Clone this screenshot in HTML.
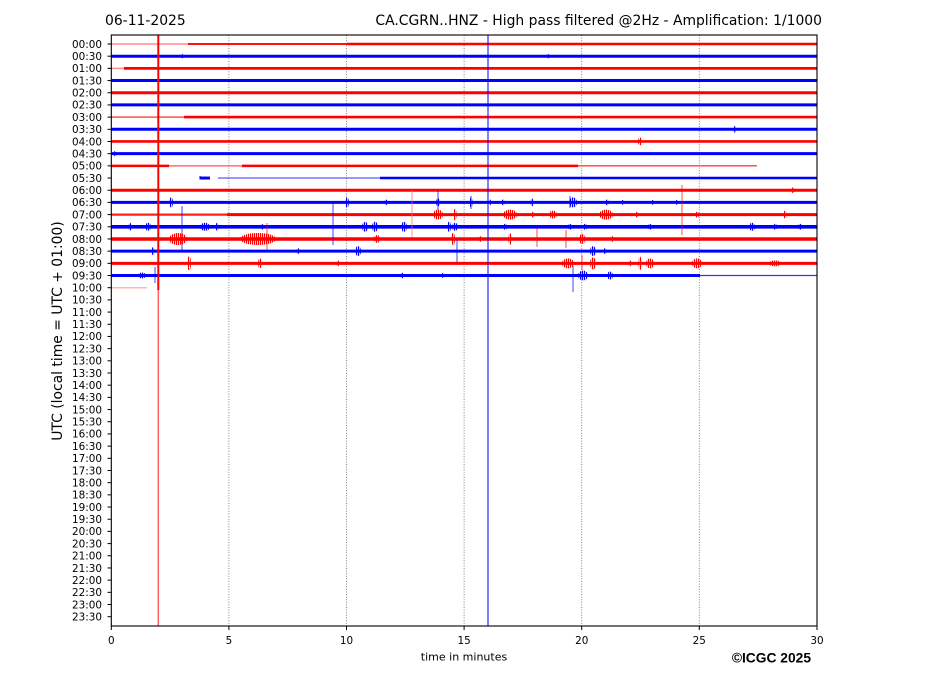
<!DOCTYPE html>
<html><head><meta charset="utf-8"><style>
html,body{margin:0;padding:0;background:#fff;}
svg{display:block;}
</style></head><body>
<svg width="927" height="696" viewBox="0 0 927 696" xmlns="http://www.w3.org/2000/svg" font-family="DejaVu Sans, Liberation Sans, sans-serif">
<defs>
<pattern id="pr" width="2" height="4" patternUnits="userSpaceOnUse"><rect width="1.2" height="4" fill="#ff0000"/></pattern>
<pattern id="pb" width="2" height="4" patternUnits="userSpaceOnUse"><rect width="1.2" height="4" fill="#0000ff"/></pattern>
</defs>
<rect width="927" height="696" fill="#fff"/>
<!-- titles -->
<text x="105" y="25" font-size="13.9" fill="#000">06-11-2025</text>
<text x="822" y="25" font-size="13.9" fill="#000" text-anchor="end">CA.CGRN..HNZ - High pass filtered @2Hz - Amplification: 1/1000</text>

<!-- grid -->
<g stroke="#666" stroke-width="0.8" stroke-dasharray="1,1.6">
<line x1="228.9" y1="35" x2="228.9" y2="626"/>
<line x1="346.5" y1="35" x2="346.5" y2="626"/>
<line x1="464.1" y1="35" x2="464.1" y2="626"/>
<line x1="581.7" y1="35" x2="581.7" y2="626"/>
<line x1="699.3" y1="35" x2="699.3" y2="626"/>
</g>

<!-- traces base lines -->
<g stroke-linecap="butt" fill="none">
<line x1="111" y1="44" x2="188" y2="44" stroke="#ff8c8c" stroke-width="1.5"/>
<line x1="188" y1="44" x2="347" y2="44" stroke="#ff1010" stroke-width="2"/>
<line x1="347" y1="44" x2="817" y2="44" stroke="#ff0000" stroke-width="2.5"/>
<line x1="111" y1="56.19" x2="817" y2="56.19" stroke="#0000ff" stroke-width="3"/>
<line x1="111" y1="68.37" x2="124" y2="68.37" stroke="#ff8c8c" stroke-width="1.5"/>
<line x1="124" y1="68.37" x2="817" y2="68.37" stroke="#ff0000" stroke-width="2.8"/>
<line x1="111" y1="80.56" x2="817" y2="80.56" stroke="#0000ff" stroke-width="3"/>
<line x1="111" y1="92.74" x2="817" y2="92.74" stroke="#ff0000" stroke-width="3"/>
<line x1="111" y1="104.93" x2="817" y2="104.93" stroke="#0000ff" stroke-width="3"/>
<line x1="111" y1="117.11" x2="184" y2="117.11" stroke="#ff5050" stroke-width="1.5"/>
<line x1="184" y1="117.11" x2="817" y2="117.11" stroke="#ff0000" stroke-width="2.6"/>
<line x1="111" y1="129.3" x2="817" y2="129.3" stroke="#0000ff" stroke-width="3"/>
<line x1="111" y1="141.48" x2="817" y2="141.48" stroke="#ff0000" stroke-width="2.6"/>
<line x1="111" y1="153.67" x2="817" y2="153.67" stroke="#0000ff" stroke-width="3"/>
<line x1="111" y1="165.85" x2="169" y2="165.85" stroke="#ff0000" stroke-width="2.5"/>
<line x1="169" y1="165.85" x2="242" y2="165.85" stroke="#ff5050" stroke-width="1.2"/>
<line x1="242" y1="165.85" x2="578" y2="165.85" stroke="#ff0000" stroke-width="2.5"/>
<line x1="578" y1="165.85" x2="757" y2="165.85" stroke="#ff4040" stroke-width="1.4"/>
<line x1="200" y1="178.04" x2="210" y2="178.04" stroke="#0000ff" stroke-width="3"/>
<line x1="200" y1="176" x2="200" y2="179.5" stroke="#0000ff" stroke-width="1"/>
<line x1="218" y1="178.04" x2="380" y2="178.04" stroke="#3030ff" stroke-width="1"/>
<line x1="380" y1="178.04" x2="817" y2="178.04" stroke="#0000ff" stroke-width="2.5"/>
<line x1="111" y1="190.22" x2="817" y2="190.22" stroke="#ff0000" stroke-width="3"/>
<line x1="111" y1="202.41" x2="817" y2="202.41" stroke="#0000ff" stroke-width="3"/>
<line x1="111" y1="214.59" x2="227" y2="214.59" stroke="#ff2020" stroke-width="2.2"/>
<line x1="227" y1="214.59" x2="817" y2="214.59" stroke="#ff0000" stroke-width="3"/>
<line x1="111" y1="226.78" x2="817" y2="226.78" stroke="#0000ff" stroke-width="3.6"/>
<line x1="111" y1="238.96" x2="817" y2="238.96" stroke="#ff0000" stroke-width="3.5"/>
<line x1="111" y1="251.15" x2="817" y2="251.15" stroke="#0000ff" stroke-width="3"/>
<line x1="111" y1="263.33" x2="817" y2="263.33" stroke="#ff0000" stroke-width="3"/>
<line x1="111" y1="275.52" x2="700" y2="275.52" stroke="#0000ff" stroke-width="3"/>
<line x1="700" y1="275.52" x2="817" y2="275.52" stroke="#3030ff" stroke-width="1.2"/>
<line x1="111" y1="287.7" x2="147" y2="287.7" stroke="#ffb4b4" stroke-width="1.5"/>
</g>

<!-- bursts -->
<g fill="url(#pb)">
<ellipse cx="182" cy="56.19" rx="1.5" ry="2.2"/>
<ellipse cx="548" cy="56.19" rx="1.5" ry="2.2"/>
<ellipse cx="735" cy="129.3" rx="1.2" ry="3.5"/>
<ellipse cx="115" cy="153.67" rx="1.5" ry="2.5"/>
<ellipse cx="171" cy="202.41" rx="2" ry="5"/>
<ellipse cx="347" cy="202.41" rx="2" ry="5"/>
<ellipse cx="386" cy="202.41" rx="1.5" ry="3"/>
<ellipse cx="438" cy="202.41" rx="2" ry="4"/>
<ellipse cx="471" cy="202.41" rx="1.5" ry="5"/>
<ellipse cx="490" cy="202.41" rx="1.2" ry="3"/>
<ellipse cx="503" cy="202.41" rx="1.5" ry="3"/>
<ellipse cx="532" cy="202.41" rx="1.5" ry="4"/>
<ellipse cx="573" cy="202.41" rx="4" ry="5"/>
<ellipse cx="607" cy="202.41" rx="1.5" ry="3"/>
<ellipse cx="623" cy="202.41" rx="1.2" ry="2.5"/>
<ellipse cx="653" cy="202.41" rx="1.2" ry="2.5"/>
<ellipse cx="677" cy="202.41" rx="1.2" ry="2.5"/>
<ellipse cx="130" cy="226.78" rx="1.5" ry="4"/>
<ellipse cx="148" cy="226.78" rx="3" ry="4"/>
<ellipse cx="205" cy="226.78" rx="5" ry="4"/>
<ellipse cx="217" cy="226.78" rx="1.5" ry="4"/>
<ellipse cx="262" cy="226.78" rx="1.5" ry="3"/>
<ellipse cx="365" cy="226.78" rx="3" ry="5"/>
<ellipse cx="375" cy="226.78" rx="3" ry="5"/>
<ellipse cx="404" cy="226.78" rx="3" ry="5"/>
<ellipse cx="449" cy="226.78" rx="2" ry="5"/>
<ellipse cx="455" cy="226.78" rx="3" ry="4"/>
<ellipse cx="505" cy="226.78" rx="2" ry="3"/>
<ellipse cx="570" cy="226.78" rx="2" ry="3"/>
<ellipse cx="585" cy="226.78" rx="2" ry="3"/>
<ellipse cx="650" cy="226.78" rx="2" ry="3"/>
<ellipse cx="752" cy="226.78" rx="3" ry="4"/>
<ellipse cx="775" cy="226.78" rx="2" ry="3"/>
<ellipse cx="800" cy="226.78" rx="2" ry="3"/>
<ellipse cx="153" cy="251.15" rx="1.5" ry="4"/>
<ellipse cx="298" cy="251.15" rx="1.5" ry="3"/>
<ellipse cx="358" cy="251.15" rx="3" ry="5"/>
<ellipse cx="593" cy="251.15" rx="3" ry="5"/>
<ellipse cx="605" cy="251.15" rx="1.5" ry="3"/>
<ellipse cx="142" cy="275.52" rx="4" ry="3"/>
<ellipse cx="402" cy="275.52" rx="1.5" ry="3"/>
<ellipse cx="443" cy="275.52" rx="1.5" ry="2.5"/>
<ellipse cx="583" cy="275.52" rx="5" ry="5"/>
<ellipse cx="610" cy="275.52" rx="3" ry="4"/>
</g>
<g stroke="#0000ff" stroke-width="1" stroke-opacity="0.75">
<line x1="438" y1="191" x2="438" y2="210"/>
<line x1="182" y1="206" x2="182" y2="250"/>
<line x1="333" y1="203" x2="333" y2="245"/>
<line x1="457" y1="240" x2="457" y2="262"/>
<line x1="155" y1="267" x2="155" y2="283"/>
<line x1="573" y1="266" x2="573" y2="292"/>
<line x1="471" y1="196" x2="471" y2="209"/>
<line x1="570" y1="196" x2="570" y2="208"/>
</g>
<g fill="url(#pr)">
<ellipse cx="640" cy="141.48" rx="2" ry="4"/>
<ellipse cx="793" cy="190.22" rx="1.5" ry="3"/>
<ellipse cx="438" cy="214.59" rx="5" ry="5"/>
<ellipse cx="455" cy="214.59" rx="1.5" ry="6"/>
<ellipse cx="510" cy="214.59" rx="7" ry="5"/>
<ellipse cx="533" cy="214.59" rx="1.5" ry="3"/>
<ellipse cx="553" cy="214.59" rx="4" ry="4"/>
<ellipse cx="606" cy="214.59" rx="7" ry="5"/>
<ellipse cx="637" cy="214.59" rx="1.5" ry="3"/>
<ellipse cx="697" cy="214.59" rx="2" ry="3"/>
<ellipse cx="785" cy="214.59" rx="1.5" ry="4"/>
<ellipse cx="178" cy="238.96" rx="9" ry="6"/>
<ellipse cx="258" cy="238.96" rx="18" ry="6"/>
<ellipse cx="377" cy="238.96" rx="3" ry="4"/>
<ellipse cx="453" cy="238.96" rx="2" ry="6"/>
<ellipse cx="480" cy="238.96" rx="1.5" ry="3"/>
<ellipse cx="510" cy="238.96" rx="1.5" ry="6"/>
<ellipse cx="582" cy="238.96" rx="3" ry="5"/>
<ellipse cx="612" cy="238.96" rx="1.5" ry="3"/>
<ellipse cx="189" cy="263.33" rx="2" ry="7"/>
<ellipse cx="260" cy="263.33" rx="2" ry="5"/>
<ellipse cx="338" cy="263.33" rx="1.5" ry="3"/>
<ellipse cx="568" cy="263.33" rx="6" ry="5"/>
<ellipse cx="593" cy="263.33" rx="3" ry="6"/>
<ellipse cx="630" cy="263.33" rx="1.5" ry="3"/>
<ellipse cx="640" cy="263.33" rx="1.5" ry="7"/>
<ellipse cx="650" cy="263.33" rx="4" ry="5"/>
<ellipse cx="697" cy="263.33" rx="5" ry="5"/>
<ellipse cx="775" cy="263.33" rx="6" ry="3"/>
</g>
<g stroke="#ff0000" stroke-width="1" stroke-opacity="0.7">
<line x1="412" y1="190" x2="412" y2="237" stroke="#ff6060"/>
<line x1="682" y1="185" x2="682" y2="235"/>
<line x1="267" y1="223" x2="267" y2="250"/>
<line x1="537" y1="228" x2="537" y2="247"/>
<line x1="566" y1="230" x2="566" y2="248"/>
<line x1="582" y1="255" x2="582" y2="270"/>
</g>

<!-- vertical lines -->
<line x1="158.3" y1="35" x2="158.3" y2="290" stroke="#ff0000" stroke-width="2"/>
<line x1="158.3" y1="290" x2="158.3" y2="626" stroke="#ff6262" stroke-width="1.5"/>
<line x1="488" y1="35" x2="488" y2="626" stroke="#0000ff" stroke-width="1"/>

<!-- axes frame -->
<rect x="111.3" y="35" width="705.7" height="591" fill="none" stroke="#000" stroke-width="1.1"/>

<!-- x ticks -->
<g stroke="#000" stroke-width="1">
<line x1="111.3" y1="626" x2="111.3" y2="630"/>
<line x1="228.9" y1="626" x2="228.9" y2="630"/>
<line x1="346.5" y1="626" x2="346.5" y2="630"/>
<line x1="464.1" y1="626" x2="464.1" y2="630"/>
<line x1="581.7" y1="626" x2="581.7" y2="630"/>
<line x1="699.3" y1="626" x2="699.3" y2="630"/>
<line x1="817" y1="626" x2="817" y2="630"/>
</g>
<g font-size="10.4" fill="#000" text-anchor="middle">
<text x="111.3" y="644">0</text>
<text x="228.9" y="644">5</text>
<text x="346.5" y="644">10</text>
<text x="464.1" y="644">15</text>
<text x="581.7" y="644">20</text>
<text x="699.3" y="644">25</text>
<text x="817" y="644">30</text>
</g>
<text x="464" y="660.5" font-size="11" text-anchor="middle" fill="#000">time in minutes</text>
<text x="811" y="662.5" font-size="13.8" font-weight="bold" text-anchor="end" fill="#000" font-family="Liberation Sans, Arial, sans-serif">©ICGC 2025</text>
<text transform="translate(62,331) rotate(-90)" font-size="13.9" text-anchor="middle" fill="#000">UTC (local time = UTC + 01:00)</text>

<!-- y ticks -->
<g stroke="#000" stroke-width="1">
<line x1="107.5" x2="111.3" y1="44" y2="44"/>
<line x1="107.5" x2="111.3" y1="56.19" y2="56.19"/>
<line x1="107.5" x2="111.3" y1="68.37" y2="68.37"/>
<line x1="107.5" x2="111.3" y1="80.56" y2="80.56"/>
<line x1="107.5" x2="111.3" y1="92.74" y2="92.74"/>
<line x1="107.5" x2="111.3" y1="104.93" y2="104.93"/>
<line x1="107.5" x2="111.3" y1="117.11" y2="117.11"/>
<line x1="107.5" x2="111.3" y1="129.3" y2="129.3"/>
<line x1="107.5" x2="111.3" y1="141.48" y2="141.48"/>
<line x1="107.5" x2="111.3" y1="153.67" y2="153.67"/>
<line x1="107.5" x2="111.3" y1="165.85" y2="165.85"/>
<line x1="107.5" x2="111.3" y1="178.04" y2="178.04"/>
<line x1="107.5" x2="111.3" y1="190.22" y2="190.22"/>
<line x1="107.5" x2="111.3" y1="202.41" y2="202.41"/>
<line x1="107.5" x2="111.3" y1="214.59" y2="214.59"/>
<line x1="107.5" x2="111.3" y1="226.78" y2="226.78"/>
<line x1="107.5" x2="111.3" y1="238.96" y2="238.96"/>
<line x1="107.5" x2="111.3" y1="251.15" y2="251.15"/>
<line x1="107.5" x2="111.3" y1="263.33" y2="263.33"/>
<line x1="107.5" x2="111.3" y1="275.52" y2="275.52"/>
<line x1="107.5" x2="111.3" y1="287.7" y2="287.7"/>
<line x1="107.5" x2="111.3" y1="299.89" y2="299.89"/>
<line x1="107.5" x2="111.3" y1="312.07" y2="312.07"/>
<line x1="107.5" x2="111.3" y1="324.26" y2="324.26"/>
<line x1="107.5" x2="111.3" y1="336.44" y2="336.44"/>
<line x1="107.5" x2="111.3" y1="348.63" y2="348.63"/>
<line x1="107.5" x2="111.3" y1="360.81" y2="360.81"/>
<line x1="107.5" x2="111.3" y1="373" y2="373"/>
<line x1="107.5" x2="111.3" y1="385.18" y2="385.18"/>
<line x1="107.5" x2="111.3" y1="397.37" y2="397.37"/>
<line x1="107.5" x2="111.3" y1="409.55" y2="409.55"/>
<line x1="107.5" x2="111.3" y1="421.74" y2="421.74"/>
<line x1="107.5" x2="111.3" y1="433.92" y2="433.92"/>
<line x1="107.5" x2="111.3" y1="446.11" y2="446.11"/>
<line x1="107.5" x2="111.3" y1="458.29" y2="458.29"/>
<line x1="107.5" x2="111.3" y1="470.48" y2="470.48"/>
<line x1="107.5" x2="111.3" y1="482.66" y2="482.66"/>
<line x1="107.5" x2="111.3" y1="494.85" y2="494.85"/>
<line x1="107.5" x2="111.3" y1="507.03" y2="507.03"/>
<line x1="107.5" x2="111.3" y1="519.22" y2="519.22"/>
<line x1="107.5" x2="111.3" y1="531.4" y2="531.4"/>
<line x1="107.5" x2="111.3" y1="543.59" y2="543.59"/>
<line x1="107.5" x2="111.3" y1="555.77" y2="555.77"/>
<line x1="107.5" x2="111.3" y1="567.96" y2="567.96"/>
<line x1="107.5" x2="111.3" y1="580.14" y2="580.14"/>
<line x1="107.5" x2="111.3" y1="592.33" y2="592.33"/>
<line x1="107.5" x2="111.3" y1="604.51" y2="604.51"/>
<line x1="107.5" x2="111.3" y1="616.7" y2="616.7"/>
</g>
<g font-size="10.4" fill="#000" text-anchor="end">
<text x="102" y="47.8">00:00</text>
<text x="102" y="60">00:30</text>
<text x="102" y="72.2">01:00</text>
<text x="102" y="84.4">01:30</text>
<text x="102" y="96.5">02:00</text>
<text x="102" y="108.7">02:30</text>
<text x="102" y="120.9">03:00</text>
<text x="102" y="133.1">03:30</text>
<text x="102" y="145.3">04:00</text>
<text x="102" y="157.5">04:30</text>
<text x="102" y="169.7">05:00</text>
<text x="102" y="181.8">05:30</text>
<text x="102" y="194">06:00</text>
<text x="102" y="206.2">06:30</text>
<text x="102" y="218.4">07:00</text>
<text x="102" y="230.6">07:30</text>
<text x="102" y="242.8">08:00</text>
<text x="102" y="255">08:30</text>
<text x="102" y="267.1">09:00</text>
<text x="102" y="279.3">09:30</text>
<text x="102" y="291.5">10:00</text>
<text x="102" y="303.7">10:30</text>
<text x="102" y="315.9">11:00</text>
<text x="102" y="328.1">11:30</text>
<text x="102" y="340.2">12:00</text>
<text x="102" y="352.4">12:30</text>
<text x="102" y="364.6">13:00</text>
<text x="102" y="376.8">13:30</text>
<text x="102" y="389">14:00</text>
<text x="102" y="401.2">14:30</text>
<text x="102" y="413.4">15:00</text>
<text x="102" y="425.5">15:30</text>
<text x="102" y="437.7">16:00</text>
<text x="102" y="449.9">16:30</text>
<text x="102" y="462.1">17:00</text>
<text x="102" y="474.3">17:30</text>
<text x="102" y="486.5">18:00</text>
<text x="102" y="498.6">18:30</text>
<text x="102" y="510.8">19:00</text>
<text x="102" y="523">19:30</text>
<text x="102" y="535.2">20:00</text>
<text x="102" y="547.4">20:30</text>
<text x="102" y="559.6">21:00</text>
<text x="102" y="571.8">21:30</text>
<text x="102" y="583.9">22:00</text>
<text x="102" y="596.1">22:30</text>
<text x="102" y="608.3">23:00</text>
<text x="102" y="620.5">23:30</text>
</g>
</svg>
</body></html>
